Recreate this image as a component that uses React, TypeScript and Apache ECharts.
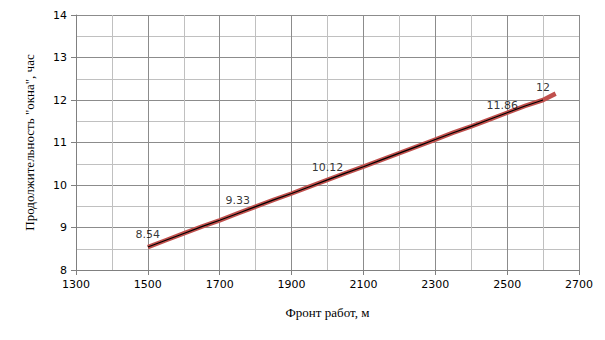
import React, { useEffect, useRef } from "react";
import * as echarts from "echarts";

const xValues = [1500, 1550, 1600, 1650, 1700, 1750, 1800, 1850, 1900, 1950, 2000, 2050, 2100, 2150, 2200, 2250, 2300, 2350, 2400, 2450, 2500, 2550, 2600];
const yValues = [8.54, 8.7, 8.86, 9.02, 9.17, 9.33, 9.49, 9.65, 9.8, 9.96, 10.12, 10.28, 10.43, 10.59, 10.75, 10.91, 11.07, 11.23, 11.38, 11.54, 11.7, 11.86, 12.0];
const redExtraX = [2635];
const redExtraY = [12.15];
const labeledX = [1500, 1750, 2000, 2550, 2600];

export default function App() {
  const ref = useRef<HTMLDivElement>(null);
  useEffect(() => {
    if (!ref.current) return;
    const chart = echarts.init(ref.current, null, { renderer: "svg" });
    const blackData = xValues.map((x, i) => [x, yValues[i]]);
    const labelData = xValues
      .map((x, i) => ({ x, v: yValues[i] }))
      .filter((d) => labeledX.includes(d.x))
      .map((d) => ({
        value: [d.x, d.v],
        label: {
          show: true,
          position: d.x === 2550 ? "left" : "top",
          distance: d.x === 2550 ? 6 : 6,
          formatter: String(d.v),
        },
      }));
    const redData = xValues.map((x, i) => [x, yValues[i]]).concat(redExtraX.map((x, i) => [x, redExtraY[i]]));
    const axisLineColor = "#808080";
    chart.setOption({
      animation: false,
      backgroundColor: "#fff",
      grid: { left: 76, right: 26, top: 15, bottom: 70, outerBoundsMode: "none", containLabel: false },
      xAxis: {
        type: "value",
        min: 1300,
        max: 2700,
        interval: 200,
        name: "Фронт работ, м",
        nameLocation: "middle",
        nameGap: 36,
        nameTextStyle: { fontFamily: "Liberation Serif", fontSize: 13, color: "#000" },
        axisLine: { show: true, onZero: false, lineStyle: { color: axisLineColor, width: 1 } },
        axisTick: { show: true, length: 5, lineStyle: { color: axisLineColor } },
        axisLabel: { fontFamily: "DejaVu Sans", fontSize: 11, color: "#000", margin: 9, formatter: (v: number) => String(v) },
        splitLine: { show: true, lineStyle: { color: "#8c8c8c", width: 1 } },
        minorTick: { show: false, splitNumber: 2 },
        minorSplitLine: { show: true, lineStyle: { color: "#c0c0c0", width: 1 } },
      },
      yAxis: {
        type: "value",
        min: 8,
        max: 14,
        interval: 1,
        name: "Продолжительность \"окна\", час",
        nameLocation: "middle",
        nameGap: 40,
        nameTextStyle: { fontFamily: "Liberation Serif", fontSize: 13, color: "#000" },
        axisLine: { show: true, lineStyle: { color: axisLineColor, width: 1 } },
        axisTick: { show: true, length: 5, lineStyle: { color: axisLineColor } },
        axisLabel: { fontFamily: "DejaVu Sans", fontSize: 11, color: "#000", margin: 9 },
        splitLine: { show: true, lineStyle: { color: "#8c8c8c", width: 1 } },
        minorTick: { show: false, splitNumber: 2 },
        minorSplitLine: { show: true, lineStyle: { color: "#c0c0c0", width: 1 } },
      },
      series: [
        {
          type: "line",
          data: redData,
          showSymbol: false,
          symbol: "none",
          lineStyle: { color: "#c0504d", width: 4.5 },
          z: 2,
        },
        {
          type: "line",
          data: blackData,
          symbol: "none",
          showSymbol: false,
          lineStyle: { color: "#000", width: 1.2 },
          z: 3,
        },
        {
          type: "scatter",
          data: labelData,
          symbol: "circle",
          symbolSize: 2,
          itemStyle: { color: "rgba(0,0,0,0)" },
          label: { fontFamily: "DejaVu Sans", fontSize: 11, color: "#000" },
          labelLayout: { hideOverlap: false },
          z: 4,
        },
      ],
    });
    return () => chart.dispose();
  }, []);
  return <div ref={ref} style={{ width: 605, height: 340, margin: -8 }} />;
}
